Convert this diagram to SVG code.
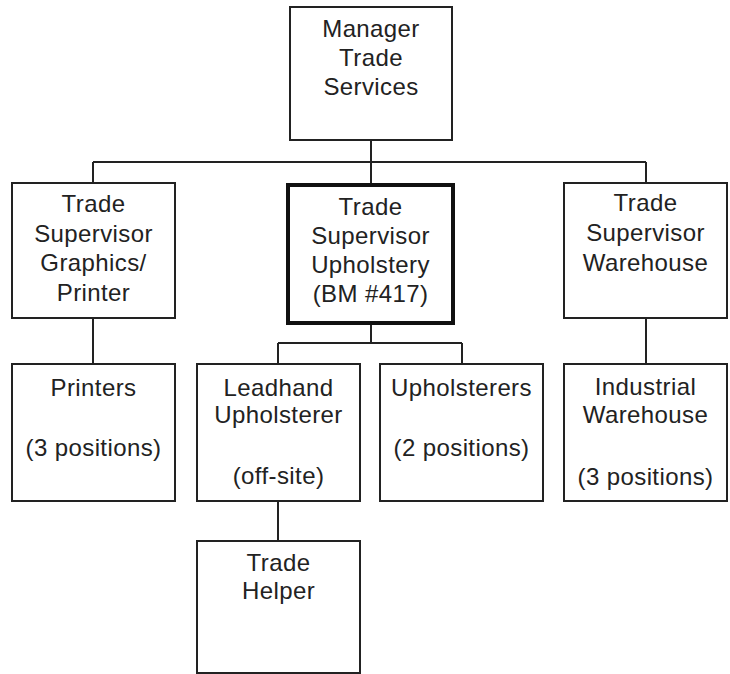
<svg xmlns="http://www.w3.org/2000/svg" width="730" height="674" viewBox="0 0 730 674">
<style>
.box{fill:#fff;stroke:#222;stroke-width:2}
.thick{fill:#fff;stroke:#111;stroke-width:4}
.conn{fill:none;stroke:#222;stroke-width:2}
text{font-family:"Liberation Sans",Arial,sans-serif;font-size:24px;letter-spacing:0.4px;fill:#222;text-anchor:middle}
</style>
<rect width="730" height="674" fill="#fff"/>
<g id="connectors">
<path class="conn" d="M371 140V162M93 162H646M93 162V183M371 162V183M646 162V183"/>
<path class="conn" d="M93 318V364M646 318V364"/>
<path class="conn" d="M371 325V343M278 343H462M278 343V364M462 343V364"/>
<path class="conn" d="M278 501V541"/>
</g>
<g id="manager">
<rect class="box" x="290" y="7" width="162" height="133"/>
<text x="371" y="37">Manager</text>
<text x="371" y="66">Trade</text>
<text x="371" y="95">Services</text>
</g>
<g id="sup-graphics">
<rect class="box" x="12" y="183" width="163" height="135"/>
<text x="93.5" y="212">Trade</text>
<text x="93.5" y="242">Supervisor</text>
<text x="93.5" y="271">Graphics/</text>
<text x="93.5" y="301">Printer</text>
</g>
<g id="sup-upholstery">
<rect class="thick" x="288" y="185" width="165" height="138"/>
<text x="370.5" y="215">Trade</text>
<text x="370.5" y="244">Supervisor</text>
<text x="370.5" y="273">Upholstery</text>
<text x="370.5" y="302">(BM #417)</text>
</g>
<g id="sup-warehouse">
<rect class="box" x="564" y="183" width="163" height="135"/>
<text x="645.5" y="211">Trade</text>
<text x="645.5" y="241">Supervisor</text>
<text x="645.5" y="271">Warehouse</text>
</g>
<g id="printers">
<rect class="box" x="12" y="364" width="163" height="137"/>
<text x="93.5" y="396">Printers</text>
<text x="93.5" y="456">(3 positions)</text>
</g>
<g id="leadhand">
<rect class="box" x="197" y="364" width="163" height="137"/>
<text x="278.5" y="396">Leadhand</text>
<text x="278.5" y="423">Upholsterer</text>
<text x="278.5" y="484">(off-site)</text>
</g>
<g id="upholsterers">
<rect class="box" x="380" y="364" width="163" height="137"/>
<text x="461.5" y="396">Upholsterers</text>
<text x="461.5" y="456">(2 positions)</text>
</g>
<g id="industrial">
<rect class="box" x="564" y="364" width="163" height="137"/>
<text x="645.5" y="395">Industrial</text>
<text x="645.5" y="423">Warehouse</text>
<text x="645.5" y="485">(3 positions)</text>
</g>
<g id="helper">
<rect class="box" x="197" y="541" width="163" height="132"/>
<text x="278.5" y="571">Trade</text>
<text x="278.5" y="599">Helper</text>
</g>
</svg>
